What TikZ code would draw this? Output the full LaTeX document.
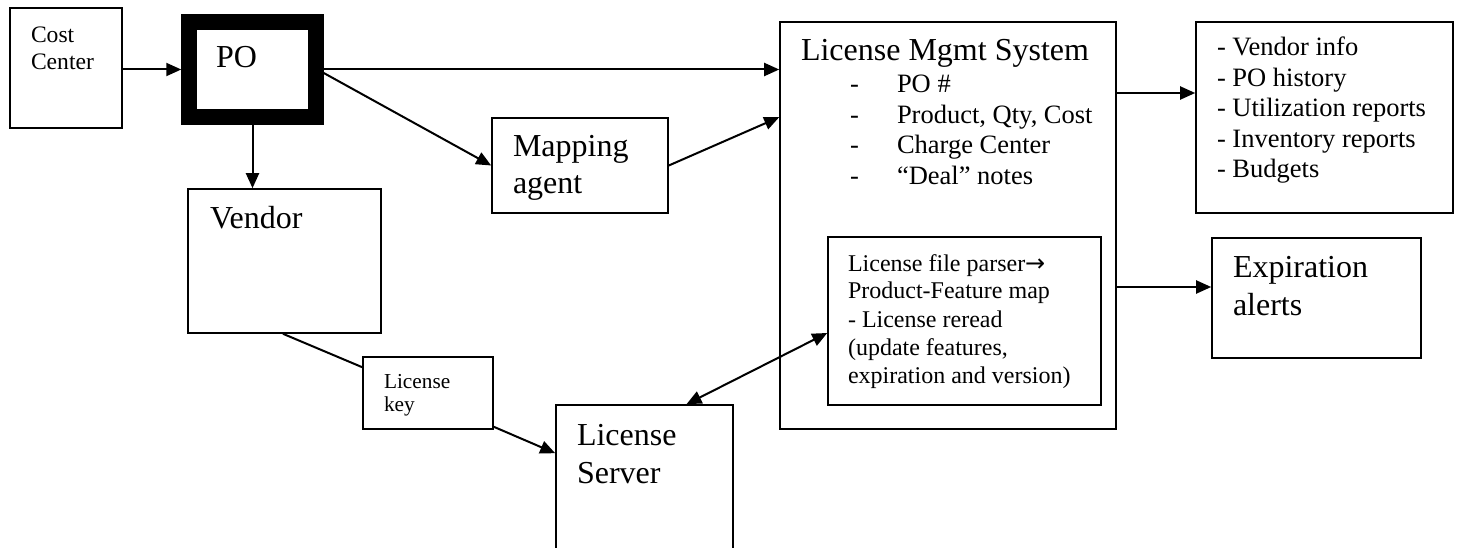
\documentclass[tikz,border=0pt]{standalone}
\usepackage{fontspec}
\setmainfont{Liberation Serif}
\newfontfamily\dejavu{DejaVu Sans}
\usetikzlibrary{arrows.meta,calc}
\newcommand{\tl}[1]{\begin{tabular}[t]{@{}l@{}}#1\end{tabular}}
\newcommand{\fs}[2]{\fontsize{#1}{#2}\selectfont}
\begin{document}
\begin{tikzpicture}[x=1pt,y=1pt,
  box/.style={draw, rectangle, line width=1.6pt, inner sep=0pt},
  txt/.style={anchor=base west, inner sep=0pt, outer sep=0pt},
  arr/.style={line width=2pt, -{Triangle[length=15pt,width=13pt]}},
  biarr/.style={line width=2pt, {Triangle[length=15pt,width=13pt]}-{Triangle[length=15pt,width=13pt]}},
  ln/.style={line width=2pt}]
\useasboundingbox (0,0) rectangle (1459,-548);
% boxes
\node[box, minimum width=112pt, minimum height=120pt] (cc) at (66,-68) {};
\node[box, line width=15.5pt, minimum width=127pt, minimum height=95pt] (po) at (252.5,-69.5) {};
\node[box, minimum width=193pt, minimum height=144pt] (vendor) at (284.5,-261) {};
\node[box, minimum width=176pt, minimum height=95pt] (mapping) at (580,-165.5) {};
\node[box, minimum width=336pt, minimum height=407pt] (lms) at (948,-225.5) {};
\node[box, minimum width=273pt, minimum height=168pt] (parser) at (964.5,-321) {};
\node[box, minimum width=257pt, minimum height=191pt] (list) at (1324.5,-117.5) {};
\node[box, minimum width=209pt, minimum height=120pt] (expir) at (1316.5,-298) {};
\node[box, minimum width=130pt, minimum height=72pt] (key) at (428,-393) {};
\node[box, minimum width=177pt, minimum height=155pt] (server) at (644.5,-482.5) {};
% connectors
\draw[arr] (cc.east |- po.west) -- (po.west);
\draw[arr] (po.east) -- (po.east -| lms.west);
\draw[arr] ([yshift=-3.5pt]po.east) -- (mapping.west);
\draw[arr] (mapping.east) -- (lms.west |- mapping.north);
\draw[arr] (po.south) -- (po.south |- vendor.north);
\draw[ln] ([xshift=-1.5pt]vendor.south) -- ([yshift=-11pt]key.north west);
\draw[arr] ([yshift=3pt]key.south east) -- ([yshift=-49pt]server.north west);
\draw[biarr] ([xshift=42pt]server.north) -- ([yshift=-12pt]parser.west);
\coordinate (c1) at ([yshift=24.5pt]list.west);
\draw[arr] (lms.east |- c1) -- (c1);
\coordinate (c2) at ([yshift=11pt]expir.west);
\draw[arr] (lms.east |- c2) -- (c2);
% texts
\node[txt, font=\fs{23.6}{27}] (tcc) at (31,-42.5) {\tl{Cost\\Center}};
\node[txt, font=\fs{32}{37}] (tpo) at (216,-68) {PO};
\node[txt, font=\fs{32}{37}] (tvendor) at (210,-229) {Vendor};
\node[txt, font=\fs{32}{37}] (tmap) at (513,-157) {\tl{Mapping\\agent}};
\node[txt, font=\fs{32}{37}] (tlms) at (801,-61) {License Mgmt System};
\node[txt, font=\fs{26.5}{30.5}] (tdash) at (850,-93) {\tl{-\\-\\-\\-}};
\node[txt, font=\fs{26.5}{30.5}] (titems) at (897,-93) {\tl{PO \#\\Product, Qty, Cost\\Charge Center\\``Deal'' notes}};
\node[txt, font=\fs{26.5}{30.5}] (tlist) at (1217,-56) {\tl{- Vendor info\\- PO history\\- Utilization reports\\- Inventory reports\\- Budgets}};
\node[txt, font=\fs{32}{38}] (texp) at (1233,-277) {\tl{Expiration\\alerts}};
\node[txt, font=\fs{24}{28}] (tparser) at (848,-271) {\tl{License file parser{\dejavu →}\\Product-Feature map\\- License reread\\(update features,\\expiration and version)}};
\node[txt, font=\fs{21.3}{23.5}] (tkey) at (384,-388) {\tl{License\\key}};
\node[txt, font=\fs{32}{38}] (tserver) at (577,-445) {\tl{License\\Server}};
\end{tikzpicture}
\end{document}
